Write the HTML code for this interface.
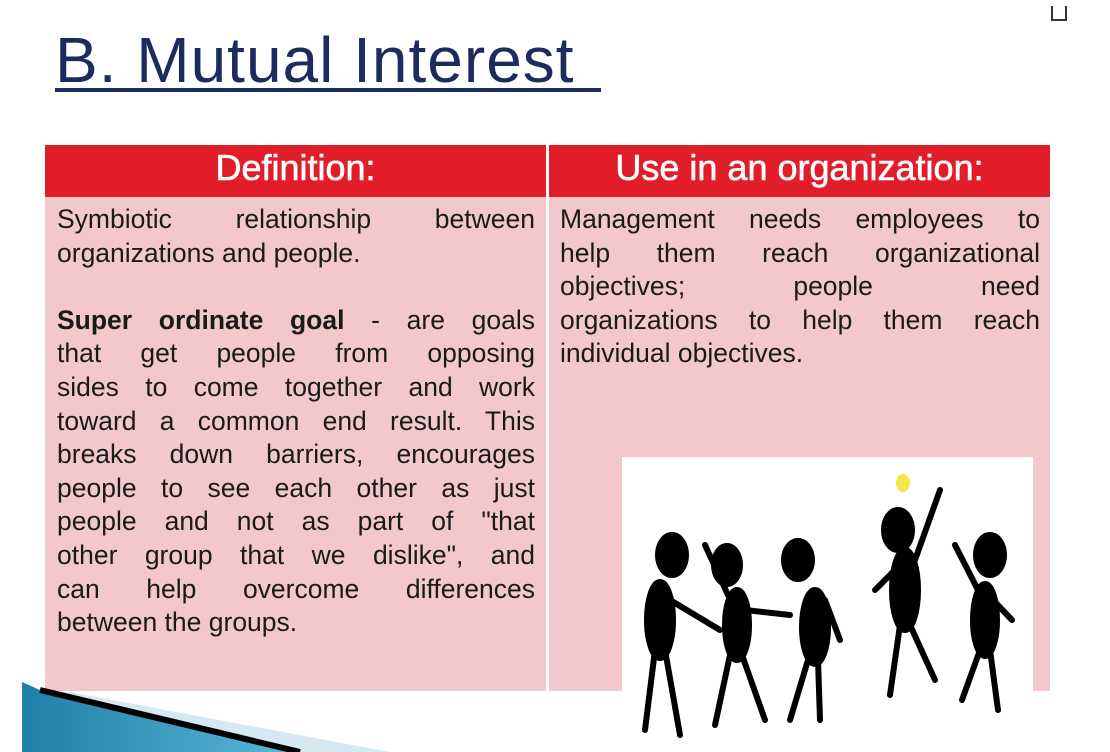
<!DOCTYPE html>
<html><head><meta charset="utf-8"><style>
body{margin:0;width:1110px;height:752px;overflow:hidden;background:#fff;font-family:"Liberation Sans","DejaVu Sans",sans-serif;position:relative}
.title{position:absolute;left:55px;top:22px;font-size:64px;color:#1d2b5e;letter-spacing:1px;line-height:76px}
.uline{position:absolute;left:55px;top:88px;width:546px;height:4px;background:#1d2b5e}
.hdr{position:absolute;top:145px;height:52px;background:#e11d2a;color:#fff;font-size:36px;text-align:center;line-height:46px;-webkit-text-stroke:0.6px #fff}
.body{position:absolute;top:197px;height:494px;background:#f2c8cc}
.col{position:absolute;font-size:26.5px;color:#1a1a1a;line-height:33.6px}
.col div{text-align:justify;text-align-last:justify;white-space:nowrap;height:33.6px}
.col div.l{text-align-last:left}
</style></head><body>
<div class="title">B. Mutual Interest</div>
<div class="uline"></div>
<div class="hdr" style="left:45px;width:501px">Definition:</div>
<div class="hdr" style="left:549px;width:501px">Use in an organization:</div>
<div class="body" style="left:45px;width:501px"></div>
<div class="body" style="left:549px;width:501px"></div>
<div class="col" style="left:57px;top:203px;width:478px">
<div>Symbiotic relationship between</div>
<div class="l">organizations and people.</div>
<div class="l"></div>
<div><b>Super ordinate goal</b> - are goals</div>
<div>that get people from opposing</div>
<div>sides to come together and work</div>
<div>toward a common end result. This</div>
<div>breaks down barriers, encourages</div>
<div>people to see each other as just</div>
<div>people and not as part of "that</div>
<div>other group that we dislike", and</div>
<div>can help overcome differences</div>
<div class="l">between the groups.</div>
</div>
<div class="col" style="left:560px;top:203px;width:480px">
<div>Management needs employees to</div>
<div>help them reach organizational</div>
<div>objectives; people need</div>
<div>organizations to help them reach</div>
<div class="l">individual objectives.</div>
</div>
<svg style="position:absolute;left:0;top:0" width="1110" height="752">
<defs><linearGradient id="bl" x1="0" y1="0" x2="1" y2="0"><stop offset="0" stop-color="#1f7fa8"/><stop offset="1" stop-color="#5bb8d8"/></linearGradient></defs>
<rect x="622" y="457" width="411" height="295" fill="#fff"/>
<g fill="#000" stroke="#000" stroke-width="6" stroke-linecap="round">
<ellipse cx="672" cy="555" rx="14" ry="20"/><ellipse cx="660" cy="620" rx="13" ry="38"/>
<line x1="655" y1="650" x2="645" y2="730" fill="none"/><line x1="665" y1="650" x2="680" y2="735" fill="none"/>
<line x1="670" y1="600" x2="720" y2="630" fill="none"/>
<ellipse cx="727" cy="565" rx="13" ry="19"/><ellipse cx="737" cy="625" rx="12" ry="35"/>
<line x1="730" y1="655" x2="715" y2="725" fill="none"/><line x1="742" y1="655" x2="765" y2="720" fill="none"/>
<line x1="728" y1="595" x2="705" y2="545" fill="none"/><line x1="745" y1="610" x2="790" y2="615" fill="none"/>
<ellipse cx="798" cy="560" rx="14" ry="19"/><ellipse cx="815" cy="627" rx="13" ry="37"/>
<line x1="808" y1="660" x2="790" y2="720" fill="none"/><line x1="818" y1="660" x2="820" y2="720" fill="none"/>
<line x1="825" y1="600" x2="840" y2="640" fill="none"/>
<ellipse cx="898" cy="530" rx="14" ry="20"/><ellipse cx="905" cy="590" rx="13" ry="40"/>
<line x1="900" y1="625" x2="890" y2="695" fill="none"/><line x1="910" y1="625" x2="935" y2="680" fill="none"/>
<line x1="915" y1="560" x2="940" y2="490" fill="none"/><line x1="895" y1="570" x2="875" y2="590" fill="none"/>
<ellipse cx="990" cy="555" rx="14" ry="20"/><ellipse cx="985" cy="620" rx="12" ry="36"/>
<line x1="980" y1="650" x2="962" y2="700" fill="none"/><line x1="990" y1="650" x2="998" y2="710" fill="none"/>
<line x1="978" y1="590" x2="955" y2="545" fill="none"/><line x1="993" y1="600" x2="1012" y2="620" fill="none"/>
</g>
<ellipse cx="903" cy="483" rx="7" ry="9" fill="#f2e64a"/>
<polygon points="40,692 300,752 390,752 70,692" fill="#d6e8f1"/>
<polygon points="22,682 22,752 300,752 40,690" fill="url(#bl)"/>
<line x1="40" y1="690" x2="300" y2="752" stroke="#000" stroke-width="6"/>
<path d="M1052 6v14h14V6" fill="none" stroke="#333" stroke-width="2"/>
</svg>
</body></html>
